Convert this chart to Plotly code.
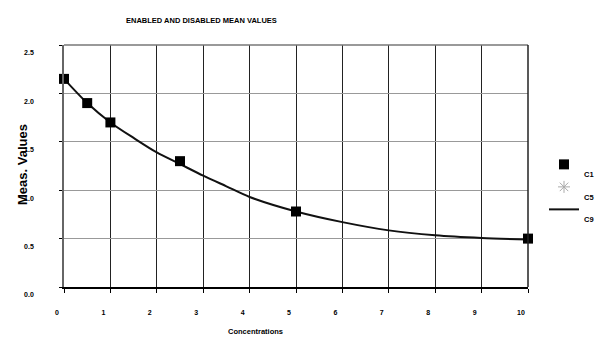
import plotly.graph_objects as go

# Data
c1_x = [0.0, 0.5, 1.0, 2.5, 5.0, 10.0]
c1_y = [2.15, 1.90, 1.70, 1.30, 0.78, 0.50]

c9_x = [0.0, 0.5, 1.0, 1.5, 2.0, 2.5, 3.0, 3.5, 4.0, 5.0, 6.0, 7.0, 8.0, 9.0, 10.0]
c9_y = [2.15, 1.90, 1.70, 1.54, 1.39, 1.27, 1.15, 1.04, 0.93, 0.78, 0.67, 0.585, 0.535, 0.507, 0.49]

x_ticks = [0, 1, 2, 3, 4, 5, 6, 7, 8, 9, 10]
y_ticks = [0.0, 0.5, 1.0, 1.5, 2.0, 2.5]

FONT = "Liberation Sans, Arial, sans-serif"
L, R, T, B = 64, 72, 45, 52
PW = 600 - L - R
PH = 339 - T - B

fig = go.Figure()
fig.add_trace(go.Scatter(
    x=c9_x, y=c9_y, mode="lines", name="C9 curve",
    line=dict(color="#111111", width=2, shape="spline", smoothing=0.8),
    showlegend=False, cliponaxis=False, hoverinfo="skip"))
fig.add_trace(go.Scatter(
    x=c1_x, y=c1_y, mode="markers", name=" <br>C1",
    marker=dict(symbol="square", size=10, color="#000000"),
    cliponaxis=False))
fig.add_trace(go.Scatter(
    x=[None], y=[None], mode="markers", name=" <br>C5",
    marker=dict(symbol="asterisk-open", size=10, color="#aaaaaa",
                line=dict(color="#aaaaaa", width=1))))
fig.add_trace(go.Scatter(
    x=[None], y=[None], mode="lines", name=" <br>C9",
    line=dict(color="#111111", width=2)))

fig.update_layout(
    width=600, height=339,
    margin=dict(l=L, r=R, t=T, b=B, autoexpand=False),
    paper_bgcolor="white", plot_bgcolor="white",
    font=dict(family=FONT, size=7, color="#000000"),
    showlegend=True,
    legend=dict(xref="container", yref="container", x=544 / 600, y=1 - 153 / 339,
                xanchor="left", yanchor="top",
                valign="top", font=dict(family=FONT, size=7.5, color="#000", weight="bold"),
                bgcolor="rgba(0,0,0,0)", itemwidth=30, tracegroupgap=0),
    xaxis=dict(range=[0, 10], tickvals=x_ticks, ticktext=[str(v) for v in x_ticks],
               showgrid=True, gridcolor="#222222", gridwidth=1,
               showline=True, linecolor="#000000", linewidth=2,
               ticks="outside", ticklen=4, tickcolor="#000", tickwidth=1,
               ticklabelstandoff=14, ticklabelshift=-7,
               tickfont=dict(family=FONT, size=7, color="#000", weight="bold"),
               zeroline=False, fixedrange=True),
    yaxis=dict(range=[0, 2.5], tickvals=y_ticks, ticktext=[f"{v:.1f}" for v in y_ticks],
               showgrid=True, gridcolor="#999999", gridwidth=1,
               showline=True, linecolor="#666666", linewidth=1.5,
               ticks="outside", ticklen=3, tickcolor="#000", tickwidth=1,
               ticklabelstandoff=24, ticklabelshift=8,
               tickfont=dict(family=FONT, size=7, color="#000", weight="bold"),
               zeroline=False, fixedrange=True),
    annotations=[
        dict(text="<b>ENABLED AND DISABLED MEAN VALUES</b>", xref="paper", yref="paper",
             x=(201 - L) / PW, y=1 + (T - 21) / PH, xanchor="center", yanchor="middle",
             showarrow=False, font=dict(family=FONT, size=7.5, color="#000")),
        dict(text="<b>Concentrations</b>", xref="paper", yref="paper",
             x=(255 - L) / PW, y=-(331 - (339 - B)) / PH, xanchor="center", yanchor="middle",
             showarrow=False, font=dict(family=FONT, size=7.5, color="#000")),
        dict(text="<b>Meas. Values</b>", xref="paper", yref="paper",
             x=-(L - 22) / PW, y=((339 - B) - 165) / PH, xanchor="center", yanchor="middle",
             showarrow=False, textangle=-90,
             font=dict(family=FONT, size=13, color="#000")),
    ],
    shapes=[
        dict(type="line", xref="paper", yref="paper", x0=0, x1=1, y0=1, y1=1,
             line=dict(color="#777777", width=1.5)),
        dict(type="line", xref="paper", yref="paper", x0=1, x1=1, y0=0, y1=1,
             line=dict(color="#222222", width=1.5)),
    ],
)

fig.write_html("out.html")
